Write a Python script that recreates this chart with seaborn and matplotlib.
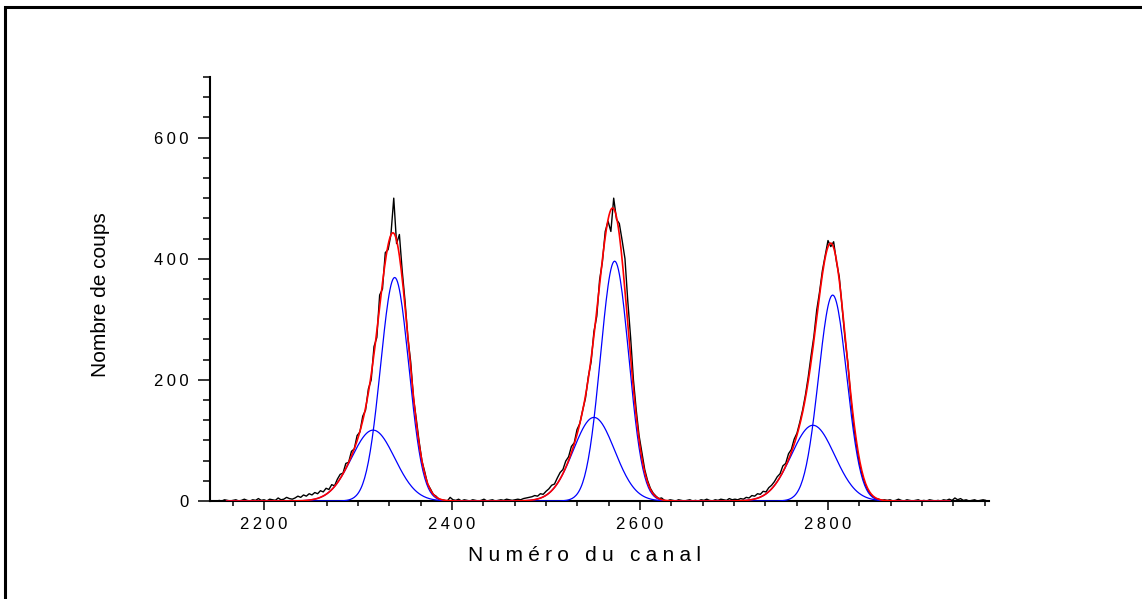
import numpy as np
import pandas as pd
import matplotlib
matplotlib.use("Agg")
import matplotlib.pyplot as plt
from matplotlib.ticker import MultipleLocator, FuncFormatter
from matplotlib.patches import Rectangle
import seaborn as sns

# ---- measured spectrum: counts every 3 channels, stored per segment ----
step = 3
seg_starts = [2152, 2230, 2404, 2470, 2635, 2701, 2863]
counts_base_left = [1, 0, 2, 1, 0, 1, 2, 0, 1, 3, 1, 0, 2, 1, 4, 1, 2, 0, 3, 2,
                    1, 5, 2, 3, 6, 4]
counts_peak1 = [3, 5, 8, 6, 10, 8, 12, 10, 14, 12, 17, 15, 21, 19, 27, 25, 36, 44,
                46, 62, 64, 82, 86, 108, 114, 140, 150, 185, 200, 255, 270, 340,
                350, 410, 415, 440, 500, 425, 440, 380, 330, 270, 230, 170, 135,
                98, 66, 48, 28, 20, 11, 8, 3, 2, 1, 0, 6, 2]
counts_gap1 = [1, 3, 0, 2, 1, 0, 2, 1, 0, 1, 3, 0, 1, 2, 0, 1, 2, 1, 3, 2, 1, 2]
counts_peak2 = [3, 2, 4, 5, 6, 7, 9, 8, 12, 11, 16, 20, 26, 28, 38, 47, 52, 66,
                73, 90, 96, 118, 128, 150, 170, 205, 230, 280, 305, 365, 395, 445,
                462, 445, 500, 465, 458, 430, 400, 330, 270, 200, 150, 108, 80,
                52, 34, 21, 13, 8, 4, 5, 1, 0, 2]
counts_gap2 = [1, 0, 2, 1, 0, 1, 2, 0, 1, 0, 2, 1, 3, 1, 0, 2, 1, 3, 2, 1, 4, 2]
counts_peak3 = [3, 2, 4, 3, 6, 5, 9, 8, 12, 11, 16, 15, 22, 26, 32, 40, 45, 58,
                62, 78, 85, 102, 112, 130, 150, 175, 205, 240, 272, 315, 345, 380,
                405, 430, 420, 428, 395, 370, 320, 270, 230, 175, 128, 95, 66, 45,
                30, 19, 12, 7, 4, 3, 1, 2]
counts_base_right = [1, 2, 0, 1, 3, 1, 0, 2, 1, 0, 1, 2, 0, 1, 0, 2, 1, 0, 1, 0,
                     2, 1, 3, 1, 5, 2, 4, 1, 2, 0, 1, 2, 0, 1, 2, 1]

# ---- fitted components: two Gaussians per peak ----
main_amp = [369, 396, 340]
main_center = [2339, 2573, 2805]
main_sigma = [15, 15, 15]
side_amp = [117, 138, 125]
side_center = [2316, 2551, 2784]
side_sigma = [23, 22, 23]
fit_start, fit_stop = 2160, 2930

# ---- axis labels and ticks ----
x_label = "Numéro du canal"
y_label = "Nombre de coups"
x_limits = (2142.5, 2971.3)
y_limits = (0, 700)
major_step = 200
minor_step = 200 / 6

# assemble the spectrum table
segments = [counts_base_left, counts_peak1, counts_gap1, counts_peak2,
            counts_gap2, counts_peak3, counts_base_right]
chan, cnt = [], []
for start, seg in zip(seg_starts, segments):
    chan.extend(start + step * np.arange(len(seg)))
    cnt.extend(seg)
spectrum = pd.DataFrame({"canal": chan, "coups": cnt})

# evaluate the fitted curves
xf = np.arange(fit_start, fit_stop + 1, 1.0)
def gauss(x, a, c, s):
    return a * np.exp(-(x - c) ** 2 / (2.0 * s ** 2))

main_part = sum(gauss(xf, a, c, s) for a, c, s in zip(main_amp, main_center, main_sigma))
side_part = sum(gauss(xf, a, c, s) for a, c, s in zip(side_amp, side_center, side_sigma))
fits = pd.DataFrame({"canal": xf, "main": main_part, "side": side_part,
                     "total": main_part + side_part})

# ---- styling ----
sns.set_theme(style="ticks")
plt.rcParams["font.family"] = ["Liberation Sans", "DejaVu Sans"]
plt.rcParams["axes.linewidth"] = 1.5

fig = plt.figure(figsize=(11.42, 5.99), dpi=100)
ax = fig.add_axes([210 / 1142, 1 - 501 / 599, (989 - 210) / 1142, (501 - 77) / 599])

sns.lineplot(data=spectrum, x="canal", y="coups", ax=ax, color="black",
             linewidth=1.0, zorder=2)
sns.lineplot(data=fits, x="canal", y="main", ax=ax, color="#0000FF",
             linewidth=0.9, zorder=3)
sns.lineplot(data=fits, x="canal", y="side", ax=ax, color="#0000FF",
             linewidth=0.9, zorder=3)
sns.lineplot(data=fits, x="canal", y="total", ax=ax, color="#FF0000",
             linewidth=1.2, zorder=4)

ax.set_xlim(*x_limits)
ax.set_ylim(*y_limits)
for side in ("top", "right"):
    ax.spines[side].set_visible(False)
for side in ("left", "bottom"):
    ax.spines[side].set_color("black")
    ax.spines[side].set_linewidth(1.5)

ax.xaxis.set_major_locator(MultipleLocator(major_step))
ax.xaxis.set_minor_locator(MultipleLocator(minor_step))
ax.yaxis.set_major_locator(MultipleLocator(major_step))
ax.yaxis.set_minor_locator(MultipleLocator(minor_step))

spaced = FuncFormatter(lambda v, _: "\u2009".join(str(int(round(v)))))
ax.xaxis.set_major_formatter(spaced)
ax.yaxis.set_major_formatter(spaced)

ax.tick_params(axis="x", which="major", direction="out", length=6.5, width=1.1,
               color="black", labelsize=12, pad=5, labelcolor="black")
ax.tick_params(axis="x", which="minor", direction="out", length=3.6, width=1.1,
               color="black")
ax.tick_params(axis="y", which="major", direction="out", length=8.5, width=1.1,
               color="black", labelsize=12, pad=7, labelcolor="black")
ax.tick_params(axis="y", which="minor", direction="out", length=5, width=1.1,
               color="black")

ax.set_xlabel("\u2005".join(x_label), fontsize=15, color="black")
ax.set_ylabel(y_label, fontsize=15, color="black")
ax.xaxis.set_label_coords((585 - 210) / 779, (501 - 546) / 424)
ax.yaxis.set_label_coords((110 - 210) / 779, (501 - 295) / 424)
ax.grid(False)

# outer frame around the drawing
fig.patches.append(Rectangle((5.3 / 1142, -0.2), 2.0, 1.2 - 7.3 / 599,
                             transform=fig.transFigure, fill=False,
                             edgecolor="black", linewidth=2.2, zorder=10))

fig.savefig("out.png", dpi=100, facecolor="white")
